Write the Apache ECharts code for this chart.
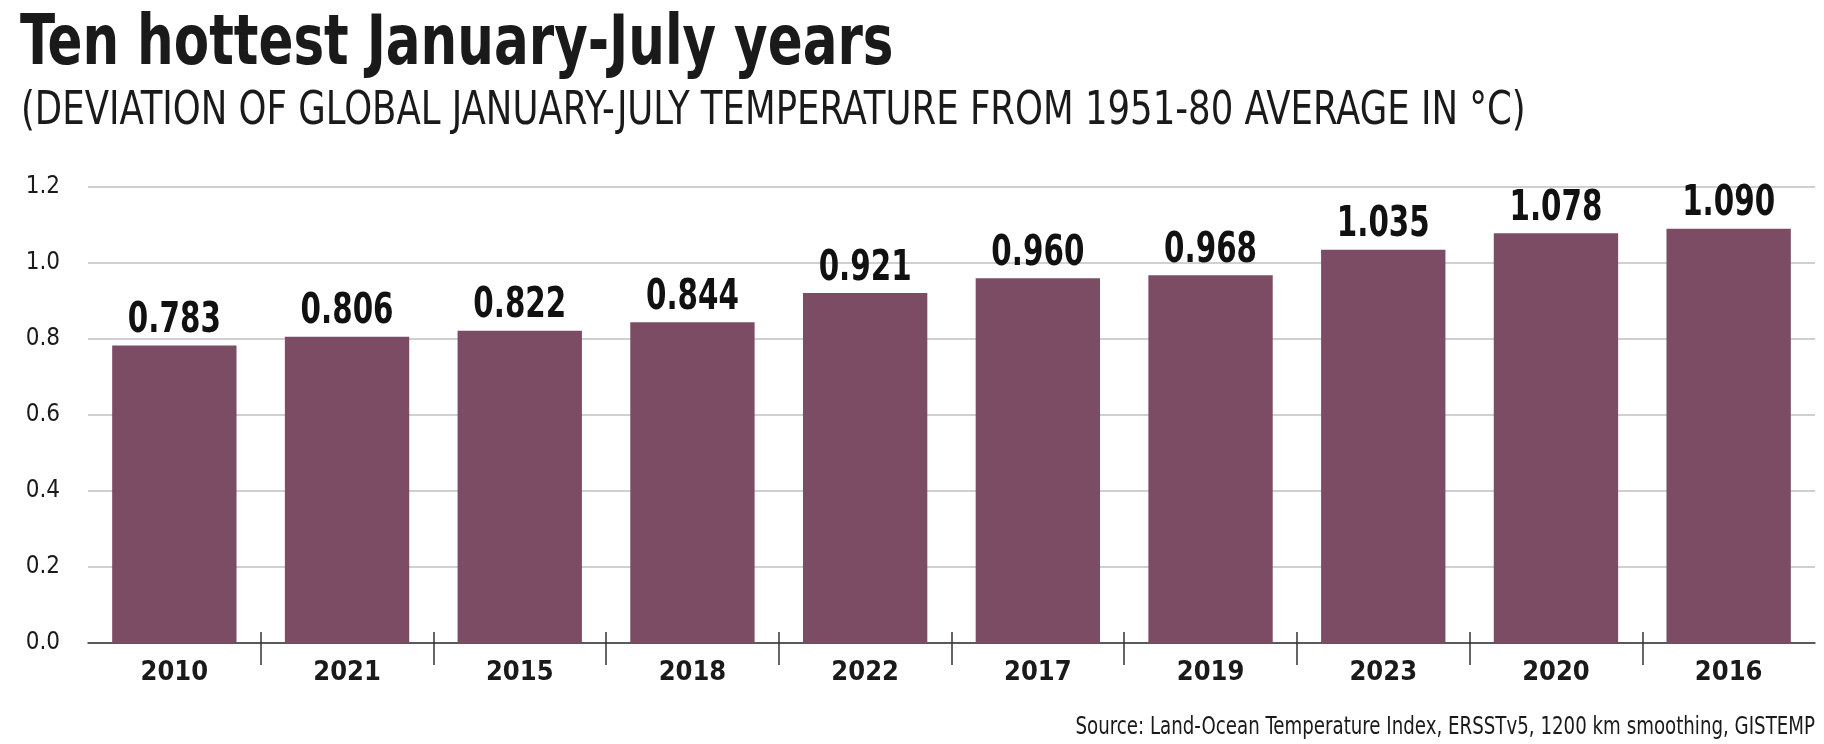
<!DOCTYPE html>
<html>
<head>
<meta charset="utf-8">
<title>Ten hottest January-July years</title>
<script src="https://cdn.jsdelivr.net/npm/echarts@6/dist/echarts.min.js"></script>
<style>
	html, body { margin: 0; padding: 0; background: #fff; }
	#chart { width: 1824px; height: 744px; }
</style>
</head>
<body>
<div id="chart"></div>
<script>
// data
const years = ['2010', '2021', '2015', '2018', '2022', '2017', '2019', '2023', '2020', '2016'];
const deviation = [0.783, 0.806, 0.822, 0.844, 0.921, 0.960, 0.968, 1.035, 1.078, 1.090];
const yTicks = [0, 0.2, 0.4, 0.6, 0.8, 1.0, 1.2];

const titleText = 'Ten hottest January-July years';
const subText = '(DEVIATION OF GLOBAL JANUARY-JULY TEMPERATURE FROM 1951-80 AVERAGE IN °C)';
const sourceText = 'Source: Land-Ocean Temperature Index, ERSSTv5, 1200 km smoothing, GISTEMP';

// no narrow font installed, so condensed DejaVu is squeezed a bit more with scaleX
const narrow = '"DejaVu Sans Condensed", "Liberation Sans Narrow", sans-serif';
const barColor = '#7c4c65';
const ink = '#1a1a1a';

const chart = echarts.init(document.getElementById('chart'), null, { renderer: 'canvas' });

chart.setOption({
	animation: false,
	graphic: [{
		type: 'text',
		x: 20,
		y: 12,
		scaleX: 0.83,
		style: {
			text: titleText,
			font: 'bold 69px ' + narrow,
			fill: ink,
			align: 'left',
			verticalAlign: 'top'
		}
	}, {
		type: 'text',
		x: 21,
		y: 88,
		scaleX: 0.84,
		style: {
			text: subText,
			font: 'normal 47px ' + narrow,
			fill: ink,
			align: 'left',
			verticalAlign: 'top'
		}
	}, {
		type: 'text',
		x: 1815,
		y: 715,
		scaleX: 0.81,
		style: {
			text: sourceText,
			font: 'normal 25px ' + narrow,
			fill: ink,
			align: 'right',
			verticalAlign: 'top'
		}
	}],
	grid: [
		{ left: 88, right: 9, top: 187, bottom: 101 },
		// thin strip only used for the separator ticks across the axis
		{ left: 88, right: 9, top: 632, height: 33 }
	],
	xAxis: [{
		type: 'category',
		data: years,
		gridIndex: 0,
		axisLine: { show: true, lineStyle: { color: '#333', width: 1.5 } },
		axisTick: { show: false },
		axisLabel: {
			fontFamily: narrow,
			fontSize: 27,
			fontWeight: 'bold',
			color: ink,
			margin: 16
		}
	}, {
		type: 'category',
		data: years,
		gridIndex: 1,
		axisLine: { show: false },
		axisTick: { show: false },
		axisLabel: { show: false },
		splitLine: {
			show: true,
			showMinLine: false,
			showMaxLine: false,
			lineStyle: { color: '#333', width: 1.5 }
		}
	}],
	yAxis: [{
		type: 'value',
		gridIndex: 0,
		min: 0,
		max: 1.2,
		interval: 0.2,
		axisLine: { show: false },
		axisTick: { show: false },
		splitLine: { lineStyle: { color: '#c0c0c0', width: 1.5 } },
		axisLabel: {
			fontFamily: narrow,
			fontSize: 24,
			color: ink,
			margin: 28,
			formatter: v => (yTicks.indexOf(+v.toFixed(1)) > -1 ? v.toFixed(1) : '')
		}
	}, {
		type: 'value',
		gridIndex: 1,
		show: false
	}],
	series: [{
		name: 'Deviation',
		type: 'bar',
		xAxisIndex: 0,
		yAxisIndex: 0,
		data: deviation,
		barWidth: '72%',
		itemStyle: { color: barColor }
	}, {
		// value labels, drawn as text so they can be narrowed
		name: 'Labels',
		type: 'custom',
		xAxisIndex: 0,
		yAxisIndex: 0,
		data: deviation.map((v, i) => [i, v]),
		renderItem: (params, api) => {
			const pt = api.coord([api.value(0), api.value(1)]);

			return {
				type: 'text',
				x: pt[0],
				y: pt[1] - 3,
				scaleX: 0.76,
				style: {
					text: api.value(1).toFixed(3),
					font: 'bold 43px ' + narrow,
					fill: '#111',
					align: 'center',
					verticalAlign: 'bottom'
				}
			};
		}
	}]
});
</script>
</body>
</html>
